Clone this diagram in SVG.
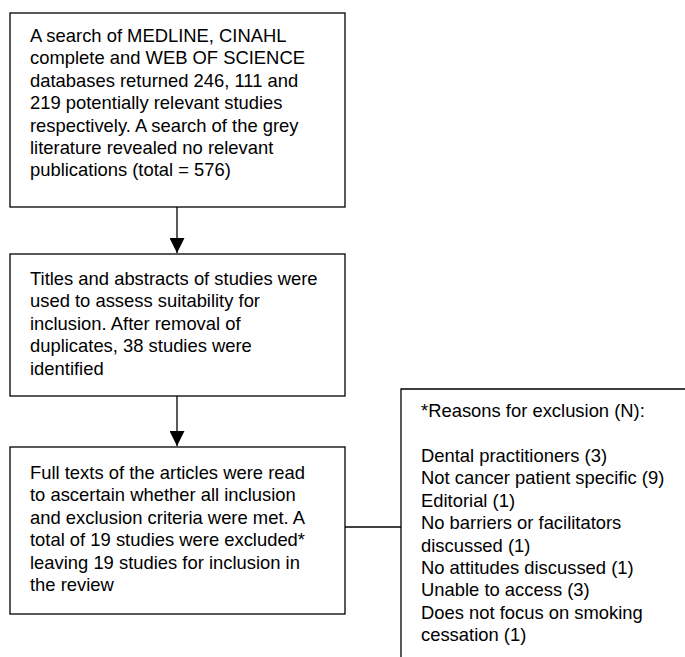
<svg xmlns="http://www.w3.org/2000/svg" width="685" height="657" viewBox="0 0 685 657">
<style>
.box{fill:#fff;stroke:#000;stroke-width:1.3}
.ln{fill:none;stroke:#000;stroke-width:1.3}
text{font-family:"Liberation Sans",Arial,sans-serif;font-size:18.4px;fill:#000}
</style>
<defs>
<marker id="ah" viewBox="0 0 10 10" refX="10" refY="5" markerWidth="15" markerHeight="15" markerUnits="userSpaceOnUse" orient="auto">
<path d="M0,0 L10,5 L0,10 z" fill="#000"/>
</marker>
</defs>
<rect width="685" height="657" fill="#fff"/>
<g id="connectors">
<line class="ln" x1="177" y1="207" x2="177" y2="253" marker-end="url(#ah)"/>
<line class="ln" x1="177" y1="396" x2="177" y2="446" marker-end="url(#ah)"/>
<line class="ln" x1="345" y1="527" x2="401" y2="527"/>
</g>
<g id="n1">
<rect class="box" x="10" y="13" width="335" height="194"/>
<text x="30" y="42">A search of MEDLINE, CINAHL</text>
<text x="30" y="64.4">complete and WEB OF SCIENCE</text>
<text x="30" y="86.8">databases returned 246, 111 and</text>
<text x="30" y="109.2">219 potentially relevant studies</text>
<text x="30" y="131.6">respectively. A search of the grey</text>
<text x="30" y="154">literature revealed no relevant</text>
<text x="30" y="176.4">publications (total = 576)</text>
</g>
<g id="n2">
<rect class="box" x="10" y="254" width="335" height="142"/>
<text x="30" y="285">Titles and abstracts of studies were</text>
<text x="30" y="307.4">used to assess suitability for</text>
<text x="30" y="329.8">inclusion. After removal of</text>
<text x="30" y="352.2">duplicates, 38 studies were</text>
<text x="30" y="374.6">identified</text>
</g>
<g id="n3">
<rect class="box" x="10" y="447" width="335" height="167"/>
<text x="30" y="479">Full texts of the articles were read</text>
<text x="30" y="501.4">to ascertain whether all inclusion</text>
<text x="30" y="523.8">and exclusion criteria were met. A</text>
<text x="30" y="546.2">total of 19 studies were excluded*</text>
<text x="30" y="568.6">leaving 19 studies for inclusion in</text>
<text x="30" y="591">the review</text>
</g>
<g id="n4">
<path class="ln" d="M686,389 H401 V658"/>
<text x="421" y="417">*Reasons for exclusion (N):</text>
<text x="421" y="462">Dental practitioners (3)</text>
<text x="421" y="484.4">Not cancer patient specific (9)</text>
<text x="421" y="506.8">Editorial (1)</text>
<text x="421" y="529.2">No barriers or facilitators</text>
<text x="421" y="551.6">discussed (1)</text>
<text x="421" y="574">No attitudes discussed (1)</text>
<text x="421" y="596.4">Unable to access (3)</text>
<text x="421" y="618.8">Does not focus on smoking</text>
<text x="421" y="641.2">cessation (1)</text>
</g>
</svg>
